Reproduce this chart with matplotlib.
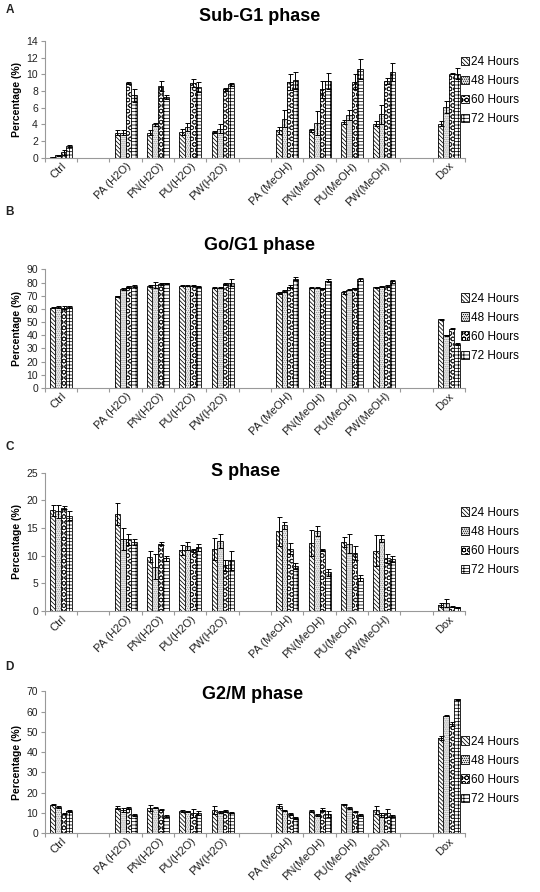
import matplotlib
matplotlib.use('Agg')
import matplotlib.pyplot as plt
import numpy as np

plt.rcParams['font.family'] = ['Liberation Sans', 'DejaVu Sans']
plt.rcParams['hatch.linewidth'] = 0.55

# categories (blank slots separate the groups, as in the original Excel chart)
categories = ['Ctrl', '', 'PA (H2O)', 'PN(H2O)', 'PU(H2O)', 'PW(H2O)', '',
              'PA (MeOH)', 'PN(MeOH)', 'PU(MeOH)', 'PW(MeOH)', '', 'Dox']
series = ['24 Hours', '48 Hours', '60 Hours', '72 Hours']
nan = np.nan

# ---- Sub-G1 ----
subg1_24 = [0.05, nan, 3.0, 3.0, 3.1, 3.1, nan, 3.3, 3.3, 4.3, 4.1, nan, 4.1]
subg1_48 = [0.3, nan, 3.0, 4.0, 3.7, 3.5, nan, 4.7, 4.2, 5.1, 5.2, nan, 6.1]
subg1_60 = [0.7, nan, 9.0, 8.6, 9.0, 8.2, nan, 9.1, 8.2, 9.1, 9.2, nan, 10.1]
subg1_72 = [1.4, nan, 7.5, 7.3, 8.5, 8.8, nan, 9.3, 9.2, 10.7, 10.3, nan, 10.1]
subg1_err24 = [0.05, nan, 0.3, 0.3, 0.4, 0.1, nan, 0.4, 0.2, 0.2, 0.3, nan, 0.3]
subg1_err48 = [0.1, nan, 0.3, 0.2, 0.5, 0.5, nan, 1.0, 1.4, 0.6, 1.1, nan, 0.7]
subg1_err60 = [0.3, nan, 0.1, 0.6, 0.5, 0.2, nan, 1.0, 1.0, 0.9, 0.4, nan, 0.1]
subg1_err72 = [0.1, nan, 0.8, 0.2, 0.6, 0.2, nan, 1.0, 1.0, 1.2, 1.1, nan, 0.7]

# ---- Go/G1 ----
g1_24 = [61.0, nan, 69.5, 77.5, 77.5, 76.0, nan, 72.0, 76.0, 72.5, 76.5, nan, 52.0]
g1_48 = [61.5, nan, 75.0, 78.0, 77.5, 76.0, nan, 73.5, 76.0, 74.5, 77.0, nan, 40.0]
g1_60 = [61.0, nan, 76.5, 79.0, 77.5, 79.0, nan, 77.0, 75.5, 75.5, 77.5, nan, 45.0]
g1_72 = [61.5, nan, 77.5, 79.5, 77.0, 80.0, nan, 83.0, 81.5, 82.5, 81.0, nan, 33.5]
g1_err24 = [0.5, nan, 0.5, 0.5, 0.3, 0.3, nan, 0.8, 0.5, 1.0, 0.5, nan, 0.5]
g1_err48 = [0.5, nan, 1.0, 2.5, 0.3, 0.3, nan, 0.8, 0.5, 0.3, 0.5, nan, 0.3]
g1_err60 = [1.0, nan, 1.0, 0.5, 0.3, 0.8, nan, 0.8, 0.5, 0.5, 0.5, nan, 0.5]
g1_err72 = [0.5, nan, 0.5, 0.5, 0.3, 2.5, nan, 1.0, 1.0, 1.0, 1.0, nan, 0.5]

# ---- S ----
s_24 = [18.2, nan, 17.5, 9.8, 11.0, 11.2, nan, 14.4, 12.3, 12.5, 10.9, nan, 1.1]
s_48 = [18.0, nan, 13.0, 8.0, 11.8, 12.7, nan, 15.5, 14.5, 12.2, 13.1, nan, 1.5]
s_60 = [18.7, nan, 13.0, 12.2, 11.0, 8.3, nan, 11.3, 11.0, 10.5, 9.5, nan, 0.8]
s_72 = [17.2, nan, 12.5, 9.5, 11.5, 9.2, nan, 8.1, 7.0, 6.0, 9.4, nan, 0.7]
s_err24 = [1.0, nan, 2.0, 1.0, 0.9, 2.0, nan, 2.6, 2.3, 0.9, 2.8, nan, 0.3]
s_err48 = [1.2, nan, 2.0, 2.3, 0.7, 1.3, nan, 0.6, 0.9, 1.7, 0.6, nan, 0.7]
s_err60 = [0.2, nan, 1.0, 0.2, 0.3, 1.0, nan, 1.0, 0.2, 1.2, 0.8, nan, 0.1]
s_err72 = [0.8, nan, 0.6, 0.5, 0.6, 1.7, nan, 0.5, 0.6, 0.6, 0.5, nan, 0.1]

# ---- G2/M ----
g2m_24 = [14.0, nan, 12.5, 12.5, 11.0, 11.5, nan, 13.5, 11.0, 14.2, 11.5, nan, 47.0]
g2m_48 = [13.0, nan, 11.5, 12.5, 10.8, 10.5, nan, 11.0, 9.0, 12.5, 9.0, nan, 58.0]
g2m_60 = [9.5, nan, 12.2, 11.5, 10.0, 11.0, nan, 9.5, 11.5, 10.5, 10.0, nan, 54.0]
g2m_72 = [11.0, nan, 9.0, 8.5, 10.0, 10.0, nan, 7.5, 9.5, 9.0, 8.5, nan, 66.0]
g2m_err24 = [0.3, nan, 0.8, 1.5, 0.5, 2.0, nan, 1.0, 0.5, 0.3, 2.0, nan, 1.0]
g2m_err48 = [0.5, nan, 1.0, 0.3, 0.3, 0.5, nan, 0.3, 0.3, 0.5, 1.0, nan, 0.3]
g2m_err60 = [0.3, nan, 0.5, 0.3, 2.0, 0.5, nan, 0.5, 0.8, 0.3, 2.0, nan, 1.0]
g2m_err72 = [0.5, nan, 0.3, 0.5, 1.0, 0.3, nan, 0.5, 1.5, 0.5, 0.5, nan, 0.3]

panels = [
    ('A', 'Sub-G1 phase', [subg1_24, subg1_48, subg1_60, subg1_72],
     [subg1_err24, subg1_err48, subg1_err60, subg1_err72], 14, 2),
    ('B', 'Go/G1 phase', [g1_24, g1_48, g1_60, g1_72],
     [g1_err24, g1_err48, g1_err60, g1_err72], 90, 10),
    ('C', 'S phase', [s_24, s_48, s_60, s_72],
     [s_err24, s_err48, s_err60, s_err72], 25, 5),
    ('D', 'G2/M phase', [g2m_24, g2m_48, g2m_60, g2m_72],
     [g2m_err24, g2m_err48, g2m_err60, g2m_err72], 70, 10),
]

# axes rectangles (left, bottom, width, height) in figure fraction
rects = [(0.083, 0.823, 0.778, 0.131),
         (0.083, 0.565, 0.778, 0.133),
         (0.083, 0.315, 0.778, 0.155),
         (0.083, 0.066, 0.778, 0.159)]
title_y = [0.981, 0.725, 0.471, 0.221]
title_x = [0.48, 0.48, 0.455, 0.468]
letter_y = [0.989, 0.762, 0.499, 0.252]
legend_y = [0.577, 0.513, 0.504, 0.444]

hatches = ['\\\\\\\\\\\\\\\\', '........', 'OOO', '-----|||']
faces = ['white', '#ececec', 'white', 'white']
hatch_colors = ['black', '#8a8a8a', '#222222', 'black']

fig = plt.figure(figsize=(5.4, 8.92), dpi=100)
x = np.arange(len(categories))
w = 0.17

for p, (letter, title, vals, errs, ymax, ystep) in enumerate(panels):
    ax = fig.add_axes(rects[p])
    for i in range(4):
        pos = x + (i - 1.5) * w
        ax.bar(pos, vals[i], w, color=faces[i], edgecolor=hatch_colors[i],
               hatch=hatches[i], linewidth=0)
        ax.bar(pos, vals[i], w, fill=False, edgecolor='black', linewidth=0.6,
               yerr=errs[i], error_kw=dict(elinewidth=0.7, capsize=1.8,
                                           capthick=0.7, ecolor='black'))
        # legend proxy
        ax.bar([np.nan], [np.nan], color=faces[i], edgecolor='black',
               hatch=hatches[i], linewidth=0.6, label=series[i])

    ax.set_xlim(-0.5, len(categories) - 0.5)
    ax.set_ylim(0, ymax)
    ax.set_yticks(np.arange(0, ymax + 0.1, ystep))
    ax.set_xticks(np.arange(-0.5, len(categories), 1.0))
    ax.set_xticklabels([])
    ax.set_xticks(x, categories, minor=True)
    ax.tick_params(axis='x', which='minor', length=0, labelsize=8, pad=2,
                   labelcolor='#222222')
    for lab in ax.get_xticklabels(minor=True):
        lab.set_rotation(45)
        lab.set_ha('right')
        lab.set_rotation_mode('anchor')
    ax.tick_params(axis='x', which='major', length=3, color='#999999')
    ax.tick_params(axis='y', length=3, color='#999999', labelsize=7.5,
                   labelcolor='#222222', pad=2)
    for s in ['top', 'right']:
        ax.spines[s].set_visible(False)
    for s in ['left', 'bottom']:
        ax.spines[s].set_color('#999999')
        ax.spines[s].set_linewidth(0.8)
    ax.set_ylabel('Percentage (%)', fontsize=7.5, fontweight='bold', labelpad=3)

    handles, labels = ax.get_legend_handles_labels()
    ax.legend(handles, labels, loc='center left', bbox_to_anchor=(0.99, legend_y[p]),
              frameon=False, fontsize=8.5, handlelength=0.7, handleheight=0.7,
              handletextpad=0.15, labelspacing=0.6, borderpad=0, borderaxespad=0)

    fig.text(title_x[p], title_y[p], title, fontsize=13, fontweight='bold',
             ha='center', va='center')
    fig.text(0.01, letter_y[p], letter, fontsize=8.5, fontweight='bold',
             ha='left', va='center', color='#222222')

fig.savefig('out.png', dpi=100)
